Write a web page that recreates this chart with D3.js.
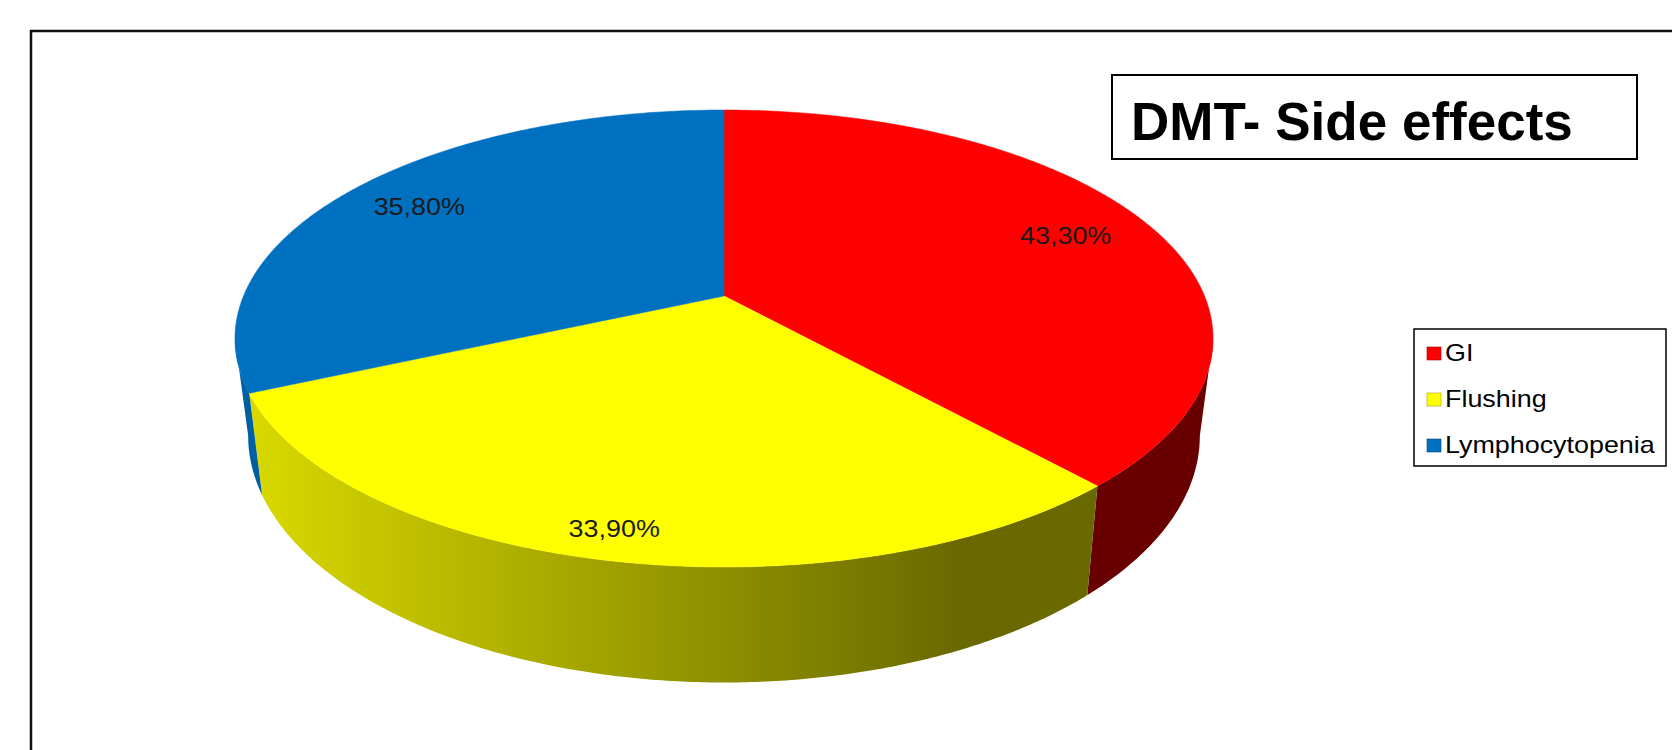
<!DOCTYPE html>
<html>
<head>
<meta charset="utf-8">
<script src="https://cdn.jsdelivr.net/npm/d3@7"></script>
<style>
  html, body { margin: 0; padding: 0; background: #fff; }
  svg { display: block; font-family: "Liberation Sans", Arial, sans-serif; }
</style>
</head>
<body>
<div id="chart"></div>
<script>
// data
var categories = ["GI", "Flushing", "Lymphocytopenia"];
var values = [43.3, 33.9, 35.8];
var valueLabels = ["43,30%", "33,90%", "35,80%"];
var colors = ["#ff0000", "#ffff00", "#0070c0"];
var title = "DMT- Side effects";

var width = 1672, height = 750;

var svg = d3.select("#chart")
    .append("svg")
    .attr("width", width)
    .attr("height", height);

// the source text is a bit wider than Arial, stretch it sideways
function widen(sel, f) {
  sel.each(function() {
    var w = this.getComputedTextLength();
    d3.select(this)
        .attr("textLength", w * f)
        .attr("lengthAdjust", "spacingAndGlyphs");
  });
}

// outer frame (only left and top edges show inside the window)
svg.append("rect")
    .attr("x", 31).attr("y", 31)
    .attr("width", width).attr("height", height)
    .attr("fill", "none")
    .attr("stroke", "#111")
    .attr("stroke-width", 2.5);

// 3d pie: perspective projection of a tilted disc
var cx = 724, cy = 296,      // projected centre of the disc
    rx = 480.5, ry = 220.6,  // radii before perspective
    g = -0.186,              // perspective factor (far side squeezed)
    depth = 94,              // disc thickness
    shrink = 0.973;          // bottom rim sits a bit further away

function proj(theta, rho, bottom) {
  var u = rho * Math.sin(theta),
      v = -rho * Math.cos(theta),
      den = 1 + g * v;
  var x = cx + (bottom ? shrink : 1) * rx * u / den;
  var y = cy + ry * v / den + (bottom ? depth / den : 0);
  return [x, y];
}

var pie = d3.pie().sort(null).value(function(d) { return d; });
var arcs = pie(values);

var line = d3.line();
var step = Math.PI / 360;

function arcPoints(a0, a1, bottom) {
  var n = Math.max(2, Math.ceil(Math.abs(a1 - a0) / step));
  return d3.range(n + 1).map(function(i) {
    return proj(a0 + (a1 - a0) * i / n, 1, bottom);
  });
}

// side shading: light on the left, dark on the right
var shade = d3.scaleLinear().domain([250, 960]).range([0.85, 0.41]).clamp(true);
var defs = svg.append("defs");
arcs.forEach(function(d, i) {
  var grad = defs.append("linearGradient")
      .attr("id", "side" + i)
      .attr("gradientUnits", "userSpaceOnUse")
      .attr("x1", 250).attr("x2", 960)
      .attr("y1", 0).attr("y2", 0);
  [0, 0.5, 1].forEach(function(t) {
    var c = d3.rgb(colors[i]);
    var k = shade(250 + t * 710);
    grad.append("stop")
        .attr("offset", t)
        .attr("stop-color", d3.rgb(c.r * k, c.g * k, c.b * k));
  });
});

// visible part of the rim lies between the two silhouette points
var visLo = Math.acos(g), visHi = 2 * Math.PI - Math.acos(g);

var sides = svg.append("g");
arcs.forEach(function(d, i) {
  var a0 = Math.max(d.startAngle, visLo),
      a1 = Math.min(d.endAngle, visHi);
  if (a1 <= a0) return;
  var pts = arcPoints(a0, a1, false).concat(arcPoints(a1, a0, true));
  sides.append("path")
      .attr("d", line(pts) + "Z")
      .attr("fill", "url(#side" + i + ")");
});

// top faces
var tops = svg.append("g");
arcs.forEach(function(d, i) {
  var pts = [[cx, cy]].concat(arcPoints(d.startAngle, d.endAngle, false));
  tops.append("path")
      .attr("d", line(pts) + "Z")
      .attr("fill", colors[i])
      .attr("stroke", colors[i])
      .attr("stroke-width", 0.5);
});

// value labels
arcs.forEach(function(d, i) {
  var mid = (d.startAngle + d.endAngle) / 2;
  var front = Math.max(0, -Math.cos(mid));
  var p = proj(mid, 0.81 + 0.09 * front, false);
  svg.append("text")
      .attr("x", p[0] - 3)
      .attr("y", p[1] + 9)
      .attr("text-anchor", "middle")
      .style("font-size", "24px")
      .style("fill", "#1a1a1a")
      .text(valueLabels[i])
      .call(widen, 1.12);
});

// title box
svg.append("rect")
    .attr("x", 1112).attr("y", 75)
    .attr("width", 525).attr("height", 84)
    .attr("fill", "#fff")
    .attr("stroke", "#000")
    .attr("stroke-width", 2);
svg.append("text")
    .attr("x", 1131)
    .attr("y", 140)
    .style("font-size", "53px")
    .style("font-weight", "bold")
    .style("fill", "#000")
    .text(title);

// legend
var legend = svg.append("g");
legend.append("rect")
    .attr("x", 1414).attr("y", 329)
    .attr("width", 252).attr("height", 137)
    .attr("fill", "#fff")
    .attr("stroke", "#000")
    .attr("stroke-width", 1.5);

var rowY = d3.scalePoint().domain(categories).range([353, 445]);
categories.forEach(function(c, i) {
  legend.append("rect")
      .attr("x", 1427)
      .attr("y", rowY(c) - 6)
      .attr("width", 14).attr("height", 13)
      .attr("fill", colors[i])
      .attr("stroke", d3.color(colors[i]).darker(1.2))
      .attr("stroke-width", 0.6);
  legend.append("text")
      .attr("x", 1445)
      .attr("y", rowY(c) + 8)
      .style("font-size", "24px")
      .style("fill", "#000")
      .text(c)
      .call(widen, 1.12);
});
</script>
</body>
</html>
